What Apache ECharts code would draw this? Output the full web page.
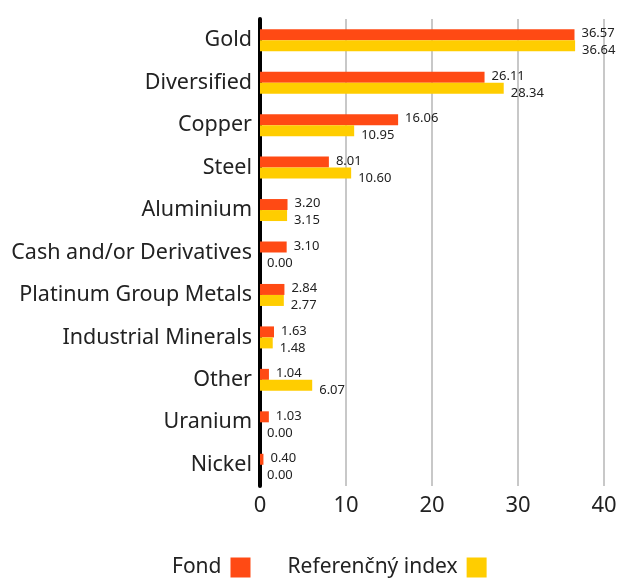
<!DOCTYPE html>
<html>
<head>
<meta charset="utf-8">
<script src="https://cdn.jsdelivr.net/npm/echarts@6/dist/echarts.min.js"></script>
<style>
  html, body { margin: 0; padding: 0; background: #fff; }
  #main { width: 620px; height: 583px; }
</style>
</head>
<body>
<div id="main"></div>
<script>
var categories = ['Gold', 'Diversified', 'Copper', 'Steel', 'Aluminium', 'Cash and/or Derivatives',
    'Platinum Group Metals', 'Industrial Minerals', 'Other', 'Uranium', 'Nickel'];
var fondValues = [36.57, 26.11, 16.06, 8.01, 3.20, 3.10, 2.84, 1.63, 1.04, 1.03, 0.40];
var indexValues = [36.64, 28.34, 10.95, 10.60, 3.15, 0.00, 2.77, 1.48, 6.07, 0.00, 0.00];
var seriesNames = ['Fond', 'Referenčný index'];

var myChart = echarts.init(document.getElementById('main'));
var font = 'Noto Sans';

option = {
    animation: false,
    textStyle: { fontFamily: font },
    legend: {
        data: seriesNames,
        bottom: 0,
        left: 167,
        align: 'right',
        icon: 'rect',
        itemWidth: 20,
        itemHeight: 20,
        itemGap: 37,
        textStyle: { fontSize: 21, color: '#222', fontFamily: font, padding: [0, 4, 0, 0] }
    },
    grid: { left: 260, right: 16, top: 19, bottom: 97 },
    xAxis: {
        type: 'value',
        min: 0,
        max: 40,
        interval: 10,
        axisLine: { show: false },
        axisTick: { show: false },
        axisLabel: { fontSize: 22, color: '#222', margin: 9, fontFamily: font },
        splitLine: { lineStyle: { color: '#c8c8c8', width: 2 } }
    },
    yAxis: {
        type: 'category',
        data: categories,
        inverse: true,
        axisLine: { lineStyle: { color: '#000', width: 4 } },
        axisTick: { show: false },
        axisLabel: { fontSize: 21.5, color: '#222', margin: 8, fontFamily: font }
    },
    series: [
        {
            name: seriesNames[0],
            type: 'bar',
            data: fondValues,
            barWidth: 11,
            barGap: '0%',
            itemStyle: { color: '#ff4a14' },
            label: {
                show: true,
                position: 'right',
                distance: 7,
                offset: [0, -1],
                fontSize: 13,
                color: '#222',
                formatter: function (p) { return p.value.toFixed(2); }
            }
        },
        {
            name: seriesNames[1],
            type: 'bar',
            data: indexValues,
            barWidth: 11,
            barGap: '0%',
            itemStyle: { color: '#ffcd00' },
            label: {
                show: true,
                position: 'right',
                distance: 7,
                offset: [0, 5],
                fontSize: 13,
                color: '#222',
                formatter: function (p) { return p.value.toFixed(2); }
            }
        }
    ]
};
myChart.setOption(option);
</script>
</body>
</html>
